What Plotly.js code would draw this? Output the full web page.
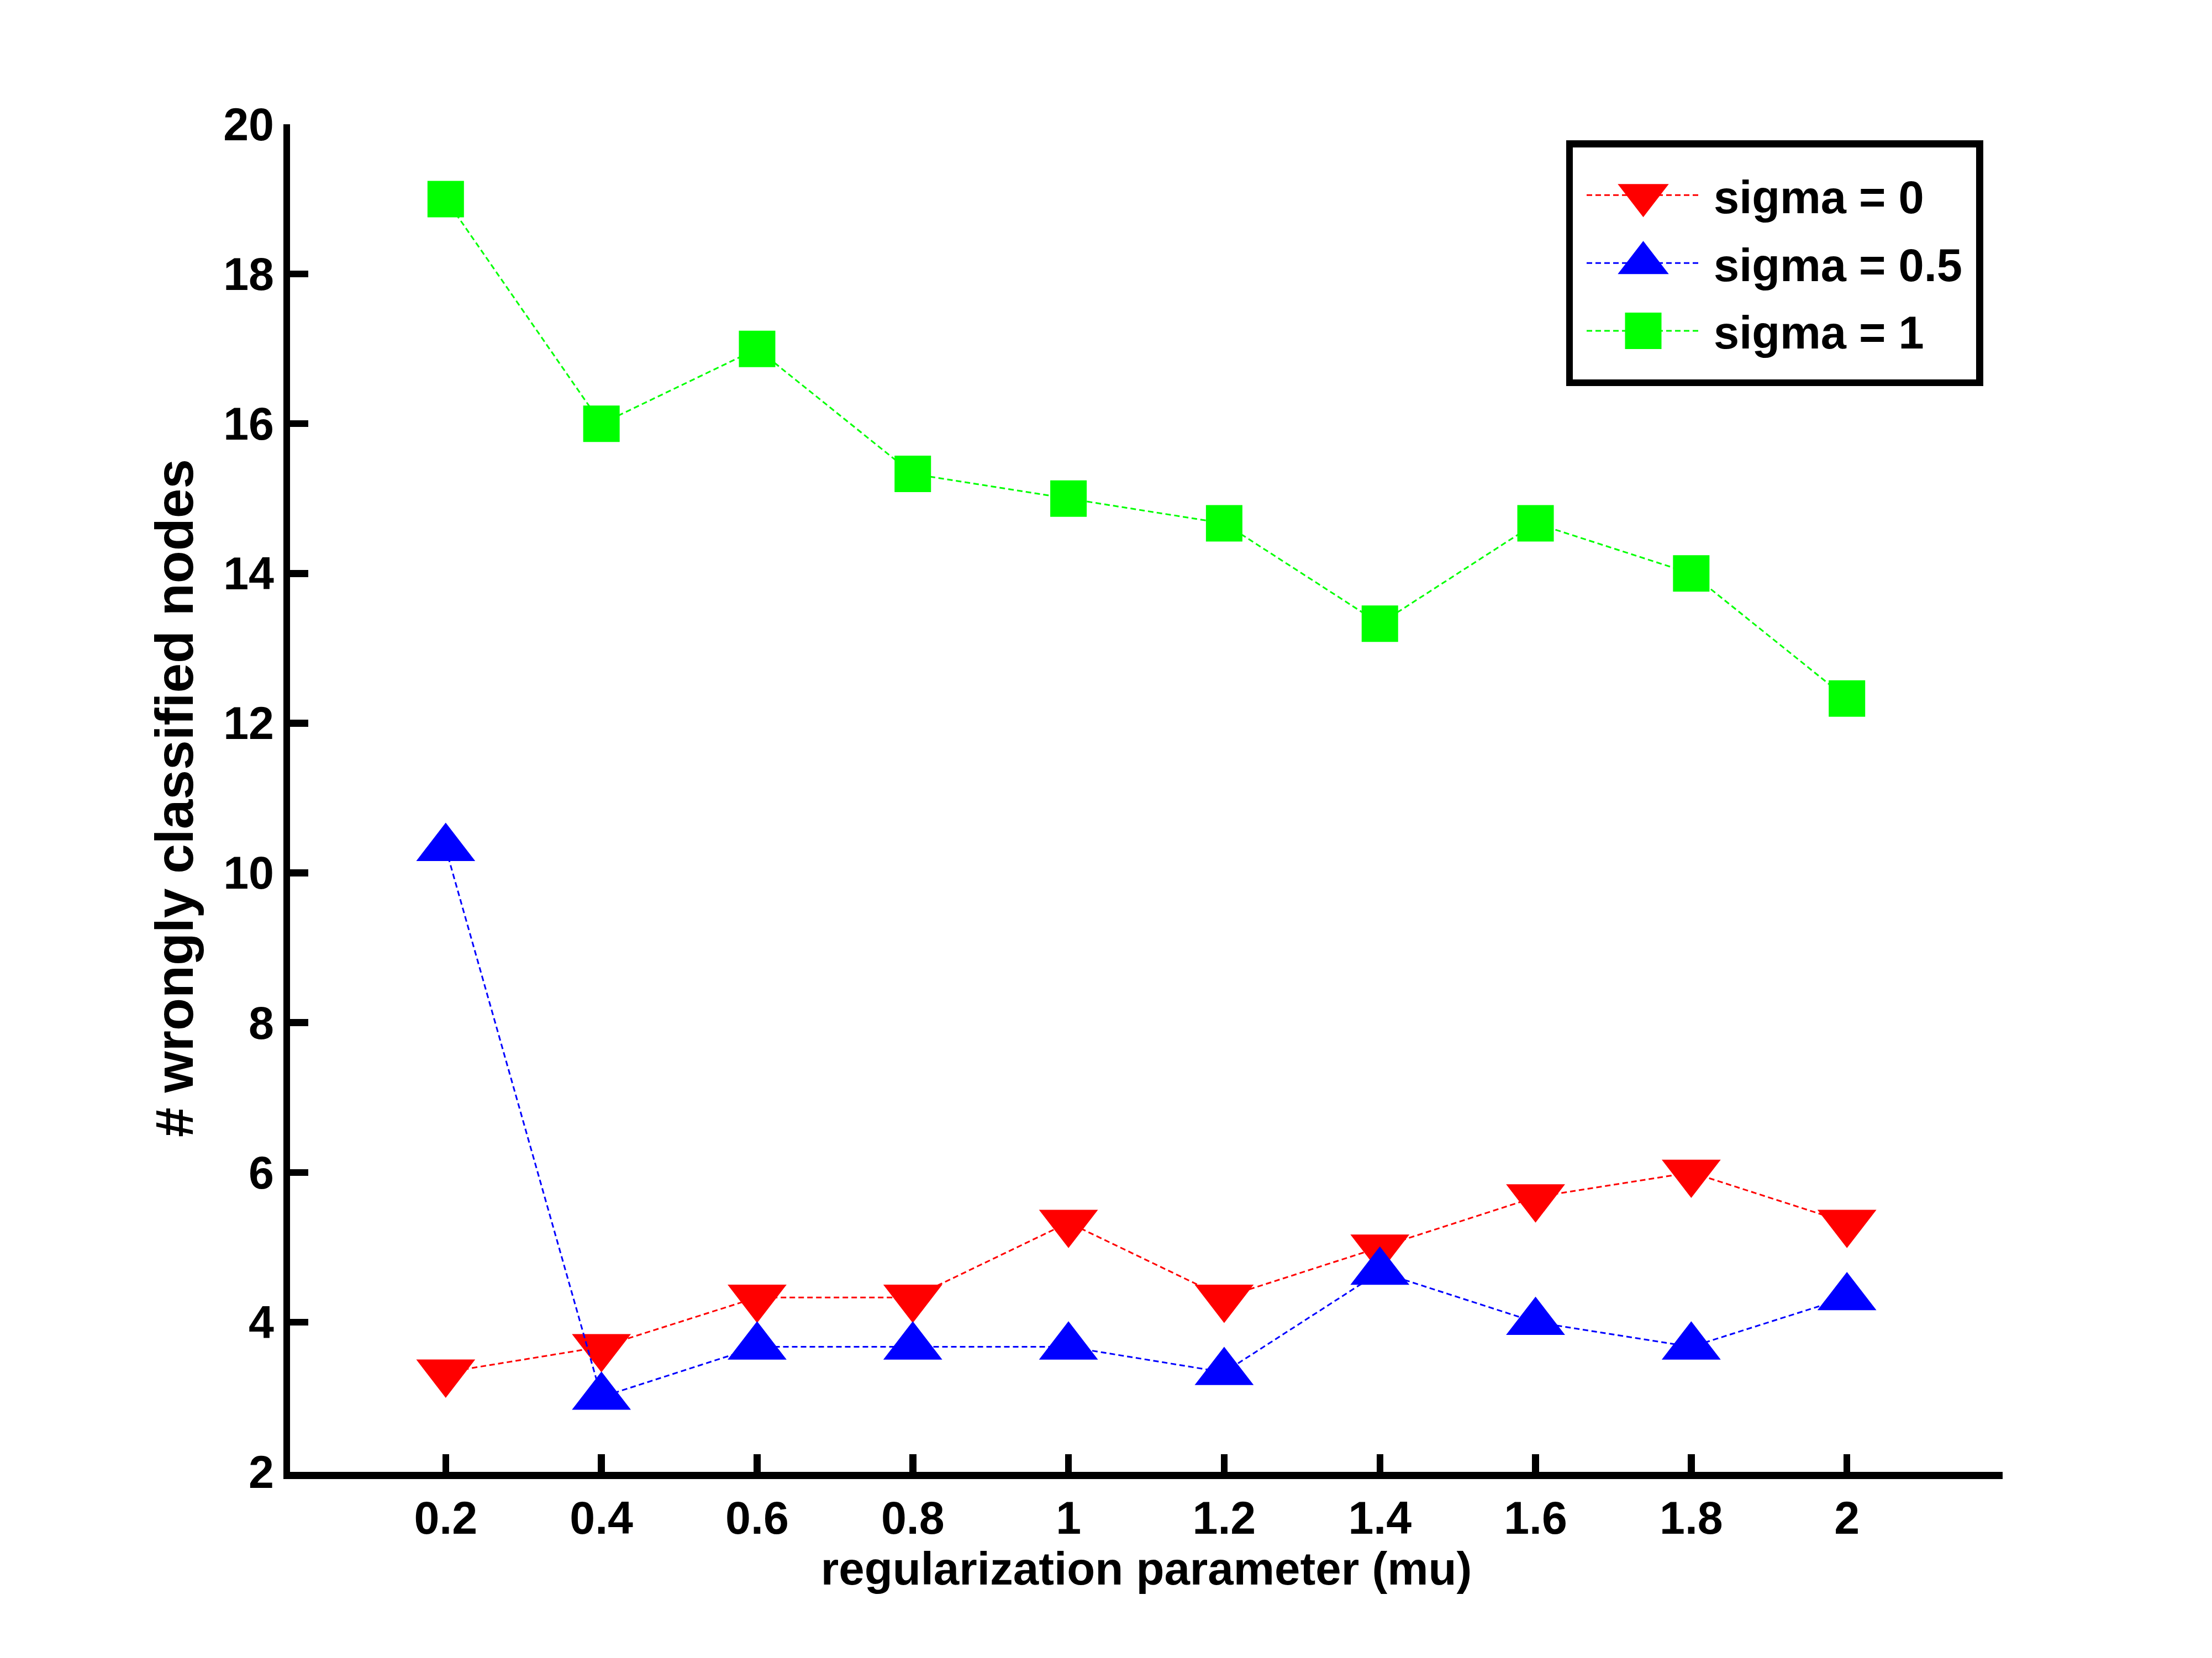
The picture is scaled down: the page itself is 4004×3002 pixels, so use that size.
<!DOCTYPE html>
<html>
<head>
<meta charset="utf-8">
<script src="https://cdn.plot.ly/plotly-3.0.1.min.js"></script>
<style>
  html { margin: 0; padding: 0; background: #fff; overflow: hidden; }
  body { margin: 0; padding: 0; background: #fff; width: 4004px; height: 3002px; }
  /* laid out at 1/5 size, then scaled up so the legend symbols keep their size */
  #chart { width: 800.8px; height: 600.4px; transform: scale(5); transform-origin: 0 0; }
</style>
</head>
<body>
<div id="chart"></div>
<script>
const mu = [0.2, 0.4, 0.6, 0.8, 1.0, 1.2, 1.4, 1.6, 1.8, 2.0];
const sigma0 = [3.33, 3.67, 4.33, 4.33, 5.33, 4.33, 5.0, 5.67, 6.0, 5.33];
const sigma05 = [10.33, 3.0, 3.67, 3.67, 3.67, 3.33, 4.67, 4.0, 3.67, 4.33];
const sigma1 = [19.0, 16.0, 17.0, 15.33, 15.0, 14.67, 13.33, 14.67, 14.0, 12.33];

const xTicks = [0.2, 0.4, 0.6, 0.8, 1, 1.2, 1.4, 1.6, 1.8, 2];
const xTickText = ["0.2", "0.4", "0.6", "0.8", "1", "1.2", "1.4", "1.6", "1.8", "2"];
const yTicks = [2, 4, 6, 8, 10, 12, 14, 16, 18, 20];

const fontFamily = "Liberation Sans, Arial, Helvetica, sans-serif";

function series(name, y, color, symbol, size) {
  return {
    x: mu,
    y: y,
    name: name,
    type: "scatter",
    mode: "lines+markers",
    line: { color: color, width: 0.6, dash: "2px,1.2px" },
    marker: { symbol: symbol, size: size, color: color, line: { width: 0 } },
  };
}

const data = [
  series("sigma = 0", sigma0, "#ff0000", "triangle-down", 18.5),
  series("sigma = 0.5", sigma05, "#0000ff", "triangle-up", 18.5),
  series("sigma = 1", sigma1, "#00ff00", "square", 13.2),
];

const axisCommon = {
  showline: true,
  linecolor: "#000",
  linewidth: 2.5,
  ticks: "inside",
  ticklen: 6.5,
  tickwidth: 2.5,
  tickcolor: "#000",
  showgrid: false,
  zeroline: false,
  automargin: false,
  tickfont: { family: fontFamily, size: 16.5, color: "#000", weight: "bold" },
};

const layout = {
  width: 800.8,
  height: 600.4,
  margin: { l: 105, r: 75.8, t: 45, b: 67.2 },
  paper_bgcolor: "#fff",
  plot_bgcolor: "#fff",
  font: { family: fontFamily, color: "#000", weight: "bold" },
  showlegend: true,
  xaxis: Object.assign({}, axisCommon, {
    range: [0, 2.2],
    tickmode: "array",
    tickvals: xTicks,
    ticktext: xTickText,
    title: {
      text: "regularization parameter (mu)",
      font: { family: fontFamily, size: 16.7, color: "#000", weight: "bold" },
      standoff: 5,
    },
  }),
  yaxis: Object.assign({}, axisCommon, {
    range: [2, 20],
    tickmode: "array",
    tickvals: yTicks,
    title: {
      text: "# wrongly classified nodes",
      font: { family: fontFamily, size: 19.3, color: "#000", weight: "bold" },
      standoff: 5.5,
    },
  }),
  legend: {
    x: 0.745,
    y: 0.988,
    xanchor: "left",
    yanchor: "top",
    bgcolor: "#fff",
    bordercolor: "#000",
    borderwidth: 2.5,
    itemwidth: 41,
    font: { family: fontFamily, size: 16.6, color: "#000", weight: "bold" },
  },
};

Plotly.newPlot("chart", data, layout, { staticPlot: true, displayModeBar: false });
</script>
</body>
</html>
